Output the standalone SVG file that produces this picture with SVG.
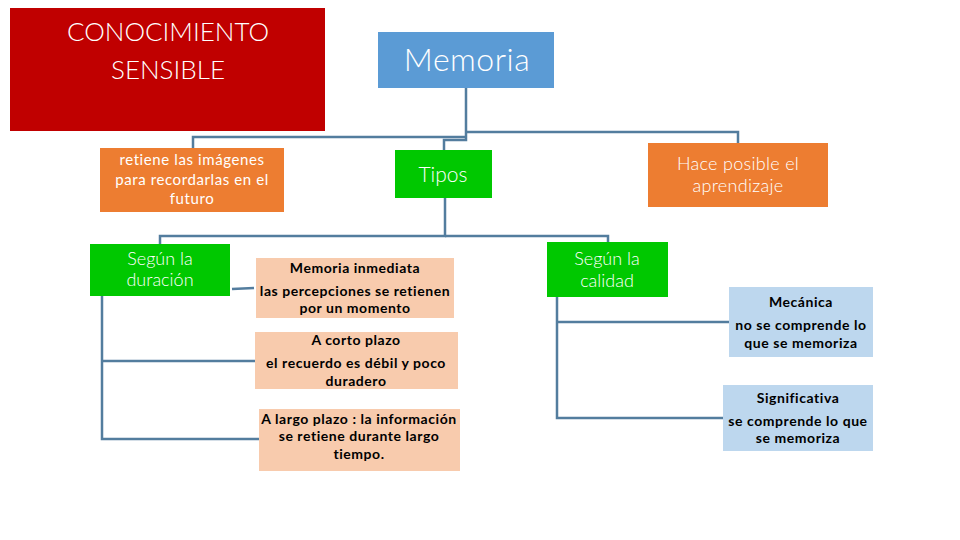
<svg xmlns="http://www.w3.org/2000/svg" width="960" height="540" viewBox="0 0 960 540">
<style>
text{font-family:Lato,"Liberation Sans",sans-serif;text-anchor:middle}
.w{fill:#ffffff;font-weight:300}
.s{letter-spacing:0.6px;font-weight:400}
.b{fill:#000000;font-weight:bold;font-size:14px;letter-spacing:0.55px}
.c{fill:none;stroke:#537D9E;stroke-width:2.5}
</style>
<rect width="960" height="540" fill="#ffffff"/>
<g id="connectors">
<path class="c" d="M466 88 V140 H444 V150"/>
<path class="c" d="M466 137 H193 V148"/>
<path class="c" d="M466 132 H738 V143"/>
<path class="c" d="M445 198 V236 H160 V244"/>
<path class="c" d="M445 236 H608 V242"/>
<path class="c" d="M232 289 L254 288"/>
<path class="c" d="M102 296 V439 H259"/>
<path class="c" d="M102 361 H255"/>
<path class="c" d="M557 297 V418 H723"/>
<path class="c" d="M557 322 H729"/>
</g>
<g id="conocimiento">
<rect x="10" y="8" width="315" height="123" fill="#C00000"/>
<text class="w" x="168" y="41" font-size="26">CONOCIMIENTO</text>
<text class="w" x="168" y="79" font-size="26">SENSIBLE</text>
</g>
<g id="memoria">
<rect x="378" y="32" width="176" height="56" fill="#5B9BD5"/>
<text class="w" x="467" y="71" font-size="32" letter-spacing="0.5">Memoria</text>
</g>
<g id="retiene">
<rect x="100" y="148" width="184" height="64" fill="#ED7D31"/>
<text class="w s" x="192" y="165" font-size="15">retiene las imágenes</text>
<text class="w s" x="192" y="185" font-size="15">para recordarlas en el</text>
<text class="w s" x="192" y="204" font-size="15">futuro</text>
</g>
<g id="tipos">
<rect x="395" y="150" width="97" height="48" fill="#00C800"/>
<text class="w" x="443" y="182" font-size="21">Tipos</text>
</g>
<g id="hace">
<rect x="648" y="143" width="180" height="64" fill="#ED7D31"/>
<text class="w" x="738" y="170" font-size="18" letter-spacing="0.3">Hace posible el</text>
<text class="w" x="738" y="192" font-size="18" letter-spacing="0.3">aprendizaje</text>
</g>
<g id="duracion">
<rect x="90" y="244" width="140" height="52" fill="#00C800"/>
<text class="w" x="160" y="265" font-size="18">Según la</text>
<text class="w" x="160" y="286" font-size="18">duración</text>
</g>
<g id="calidad">
<rect x="547" y="242" width="121" height="55" fill="#00C800"/>
<text class="w" x="607" y="265" font-size="18">Según la</text>
<text class="w" x="607" y="287" font-size="18">calidad</text>
</g>
<g id="inmediata">
<rect x="256" y="258" width="198" height="60" fill="#F8CBAD"/>
<text class="b" x="355" y="273">Memoria inmediata</text>
<text class="b" x="355" y="296">las percepciones se retienen</text>
<text class="b" x="355" y="313">por un momento</text>
</g>
<g id="corto">
<rect x="255" y="332" width="203" height="57" fill="#F8CBAD"/>
<text class="b" x="356" y="345">A corto plazo</text>
<text class="b" x="356" y="368">el recuerdo es débil y poco</text>
<text class="b" x="356" y="386">duradero</text>
</g>
<g id="largo">
<rect x="259" y="409" width="201" height="62" fill="#F8CBAD"/>
<text class="b" x="359" y="424">A largo plazo : la información</text>
<text class="b" x="359" y="441">se retiene durante largo</text>
<text class="b" x="359" y="459">tiempo.</text>
</g>
<g id="mecanica">
<rect x="729" y="287" width="144" height="70" fill="#BDD7EE"/>
<text class="b" x="801" y="307">Mecánica</text>
<text class="b" x="801" y="330">no se comprende lo</text>
<text class="b" x="801" y="348">que se memoriza</text>
</g>
<g id="significativa">
<rect x="723" y="385" width="150" height="66" fill="#BDD7EE"/>
<text class="b" x="798" y="403">Significativa</text>
<text class="b" x="798" y="426">se comprende lo que</text>
<text class="b" x="798" y="443">se memoriza</text>
</g>
</svg>
